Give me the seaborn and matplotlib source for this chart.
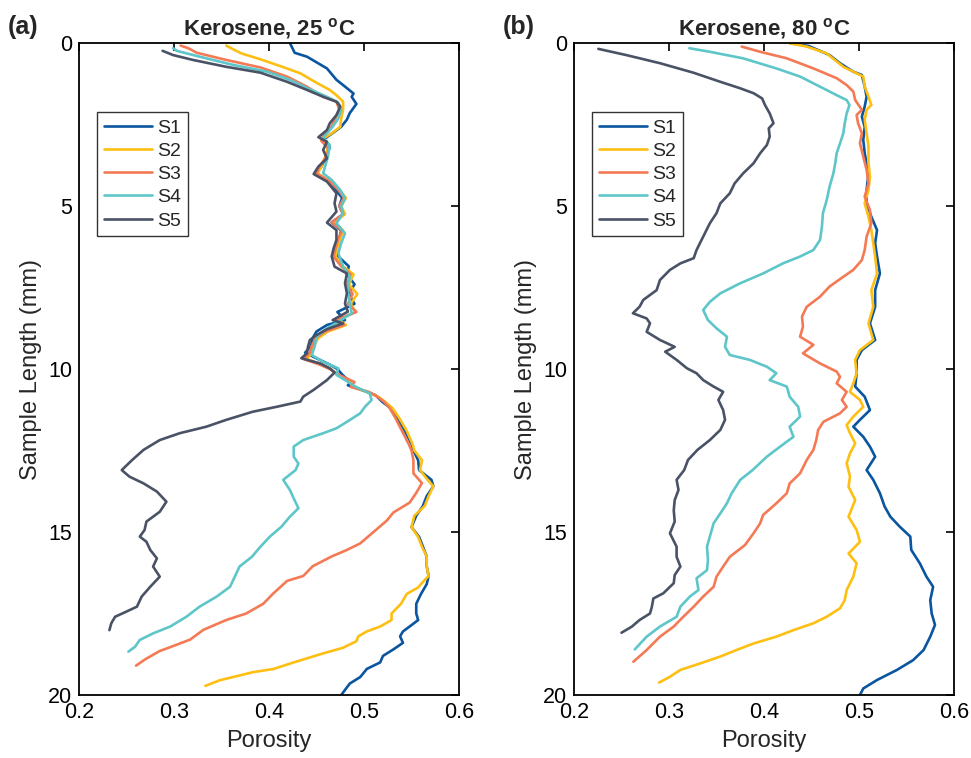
import matplotlib
matplotlib.use("Agg")
import matplotlib.pyplot as plt
import numpy as np
import pandas as pd
import seaborn as sns

# ---------------- porosity profiles, kerosene at 25 °C ----------------
a_s1_depth = [0.0, 0.3, 0.42, 0.78, 1.13, 1.29, 1.55, 1.65, 1.87, 2.15, 2.35, 2.57, 2.72, 2.95, 3.2, 3.5, 3.8, 4.0,
              4.25, 4.5, 4.75, 5.0, 5.25, 5.5, 5.75, 6.0, 6.3, 6.55, 6.85, 7.1, 7.4, 7.7, 8.0, 8.25, 8.5, 8.65, 8.85,
              9.05, 9.3, 9.5, 9.7, 9.85, 10.0, 10.2, 10.4, 10.5, 10.65, 10.8, 11.0, 11.2, 11.5, 11.9, 12.3, 12.5,
              12.8, 13.1, 13.4, 13.6, 13.9, 14.2, 14.5, 14.85, 15.15, 15.45, 15.75, 16.05, 16.35, 16.6, 16.9, 17.2,
              17.5, 17.7, 17.9, 18.05, 18.2, 18.4, 18.6, 18.8, 19.0, 19.2, 19.45, 19.65, 20.0]
a_s1_por = [0.422, 0.427, 0.440, 0.461, 0.471, 0.478, 0.489, 0.487, 0.492, 0.485, 0.482, 0.476, 0.469, 0.458, 0.464,
            0.460, 0.455, 0.450, 0.463, 0.470, 0.477, 0.474, 0.478, 0.466, 0.476, 0.474, 0.470, 0.473, 0.484, 0.482,
            0.490, 0.484, 0.490, 0.472, 0.480, 0.461, 0.450, 0.446, 0.444, 0.438, 0.452, 0.463, 0.472, 0.478, 0.486,
            0.483, 0.498, 0.512, 0.519, 0.528, 0.535, 0.543, 0.550, 0.552, 0.557, 0.558, 0.571, 0.573, 0.566, 0.562,
            0.555, 0.550, 0.558, 0.562, 0.566, 0.566, 0.568, 0.566, 0.560, 0.555, 0.555, 0.557, 0.548, 0.541, 0.538,
            0.541, 0.531, 0.520, 0.517, 0.503, 0.496, 0.485, 0.476]

a_s2_depth = [0.08, 0.19, 0.32, 0.5, 0.71, 0.93, 1.22, 1.44, 1.6, 1.8, 2.05, 2.31, 2.57, 2.77, 2.95, 3.2, 3.5, 3.8,
              4.0, 4.25, 4.5, 4.75, 5.0, 5.25, 5.5, 5.75, 6.0, 6.3, 6.55, 6.85, 7.1, 7.4, 7.7, 8.0, 8.25, 8.5, 8.65,
              8.85, 9.05, 9.3, 9.5, 9.7, 9.85, 10.0, 10.2, 10.4, 10.55, 10.7, 10.85, 11.0, 11.2, 11.5, 11.9, 12.3,
              12.5, 12.8, 13.1, 13.4, 13.6, 13.9, 14.2, 14.5, 14.85, 15.15, 15.45, 15.75, 16.05, 16.35, 16.5, 16.7,
              16.9, 17.2, 17.5, 17.7, 17.9, 18.05, 18.2, 18.35, 18.55, 18.75, 19.0, 19.2, 19.3, 19.55, 19.72]
a_s2_por = [0.355, 0.362, 0.371, 0.391, 0.412, 0.433, 0.450, 0.464, 0.471, 0.478, 0.478, 0.476, 0.475, 0.466, 0.456,
            0.462, 0.459, 0.455, 0.451, 0.465, 0.474, 0.481, 0.476, 0.480, 0.469, 0.478, 0.475, 0.472, 0.470, 0.478,
            0.489, 0.484, 0.493, 0.486, 0.491, 0.474, 0.481, 0.462, 0.452, 0.447, 0.445, 0.440, 0.454, 0.465, 0.474,
            0.486, 0.488, 0.503, 0.515, 0.522, 0.530, 0.537, 0.545, 0.551, 0.553, 0.561, 0.559, 0.567, 0.573, 0.568,
            0.564, 0.553, 0.550, 0.557, 0.561, 0.566, 0.566, 0.568, 0.563, 0.557, 0.545, 0.539, 0.529, 0.529, 0.517,
            0.503, 0.494, 0.492, 0.478, 0.454, 0.426, 0.405, 0.383, 0.348, 0.333]

a_s3_depth = [0.08, 0.16, 0.30, 0.52, 0.75, 1.03, 1.34, 1.65, 1.80, 2.05, 2.3, 2.55, 2.8, 3.0, 3.25, 3.5, 3.8, 4.0,
              4.25, 4.5, 4.75, 5.0, 5.25, 5.5, 5.75, 6.0, 6.3, 6.55, 6.85, 7.1, 7.4, 7.7, 8.0, 8.25, 8.5, 8.65, 8.85,
              9.05, 9.3, 9.5, 9.7, 9.85, 10.0, 10.2, 10.4, 10.55, 10.7, 10.85, 11.0, 11.2, 11.5, 11.9, 12.3, 12.5,
              12.8, 13.2, 13.5, 13.8, 14.1, 14.4, 14.65, 14.95, 15.35, 15.55, 15.75, 16.05, 16.35, 16.5, 16.9, 17.2,
              17.5, 17.7, 18.0, 18.3, 18.5, 18.65, 18.9, 19.1]
a_s3_por = [0.307, 0.315, 0.324, 0.355, 0.391, 0.419, 0.440, 0.457, 0.471, 0.474, 0.470, 0.466, 0.458, 0.455, 0.463,
            0.460, 0.453, 0.450, 0.464, 0.473, 0.479, 0.474, 0.478, 0.466, 0.477, 0.473, 0.470, 0.468, 0.476, 0.486,
            0.482, 0.488, 0.483, 0.492, 0.470, 0.479, 0.459, 0.449, 0.445, 0.443, 0.437, 0.452, 0.464, 0.475, 0.490,
            0.486, 0.505, 0.514, 0.521, 0.527, 0.533, 0.540, 0.547, 0.550, 0.552, 0.552, 0.561, 0.555, 0.548, 0.531,
            0.524, 0.512, 0.496, 0.482, 0.466, 0.446, 0.436, 0.419, 0.404, 0.394, 0.376, 0.355, 0.331, 0.317, 0.299,
            0.285, 0.270, 0.260]

a_s4_depth = [0.16, 0.24, 0.42, 0.67, 0.88, 1.13, 1.42, 1.65, 1.83, 2.05, 2.31, 2.57, 2.77, 2.92, 3.13, 3.49, 3.79,
              4.0, 4.2, 4.51, 4.76, 5.02, 5.22, 5.53, 5.84, 6.14, 6.45, 6.86, 7.17, 7.58, 7.99, 8.29, 8.55, 8.75,
              9.01, 9.32, 9.57, 9.78, 9.98, 10.18, 10.34, 10.54, 10.75, 10.95, 11.16, 11.36, 11.62, 11.82, 11.97,
              12.18, 12.38, 12.69, 12.9, 13.1, 13.4, 13.71, 13.97, 14.27, 14.53, 14.84, 15.14, 15.45, 15.76, 16.06,
              16.37, 16.68, 16.98, 17.29, 17.6, 17.9, 18.11, 18.31, 18.52, 18.67]
a_s4_por = [0.299, 0.303, 0.327, 0.362, 0.398, 0.422, 0.443, 0.461, 0.473, 0.476, 0.473, 0.467, 0.461, 0.457, 0.464,
            0.462, 0.459, 0.457, 0.466, 0.475, 0.480, 0.476, 0.478, 0.471, 0.480, 0.476, 0.473, 0.478, 0.485, 0.483,
            0.485, 0.487, 0.473, 0.461, 0.450, 0.448, 0.445, 0.457, 0.473, 0.471, 0.480, 0.491, 0.506, 0.508, 0.501,
            0.496, 0.482, 0.471, 0.457, 0.436, 0.426, 0.426, 0.431, 0.428, 0.415, 0.422, 0.426, 0.431, 0.422, 0.413,
            0.401, 0.391, 0.382, 0.369, 0.364, 0.359, 0.345, 0.327, 0.313, 0.296, 0.278, 0.264, 0.259, 0.252]

a_s5_depth = [0.24, 0.37, 0.52, 0.73, 0.91, 1.19, 1.44, 1.65, 1.80, 1.95, 2.21, 2.46, 2.67, 2.89, 3.03, 3.28, 3.54,
              3.79, 4.02, 4.25, 4.61, 4.92, 5.17, 5.51, 5.74, 6.04, 6.3, 6.55, 6.86, 7.07, 7.37, 7.68, 7.99, 8.24,
              8.5, 8.6, 8.78, 8.96, 9.11, 9.32, 9.52, 9.67, 9.83, 9.98, 10.11, 10.34, 10.64, 10.85, 11.0, 11.16,
              11.31, 11.56, 11.77, 11.97, 12.18, 12.48, 12.79, 13.1, 13.3, 13.51, 13.76, 14.07, 14.38, 14.68, 14.94,
              15.14, 15.3, 15.55, 15.81, 16.06, 16.37, 16.68, 16.98, 17.29, 17.44, 17.6, 17.8, 18.01]
a_s5_por = [0.288, 0.299, 0.320, 0.355, 0.391, 0.419, 0.440, 0.457, 0.471, 0.475, 0.471, 0.464, 0.461, 0.452, 0.461,
            0.457, 0.461, 0.452, 0.447, 0.461, 0.471, 0.469, 0.471, 0.461, 0.471, 0.471, 0.468, 0.466, 0.469, 0.482,
            0.480, 0.482, 0.480, 0.483, 0.467, 0.478, 0.461, 0.450, 0.443, 0.441, 0.440, 0.434, 0.454, 0.464, 0.469,
            0.461, 0.447, 0.436, 0.433, 0.408, 0.383, 0.355, 0.334, 0.306, 0.285, 0.268, 0.256, 0.245, 0.253, 0.268,
            0.282, 0.292, 0.285, 0.271, 0.269, 0.264, 0.271, 0.275, 0.282, 0.278, 0.285, 0.275, 0.266, 0.261, 0.250,
            0.238, 0.234, 0.232]

# ---------------- porosity profiles, kerosene at 80 °C ----------------
b_s1_depth = [0.0, 0.09, 0.37, 0.62, 0.88, 0.98, 1.34, 1.65, 1.95, 2.26, 2.57, 2.97, 3.38, 4.0, 4.51, 4.92, 5.33,
              5.74, 6.14, 6.55, 7.07, 7.58, 8.09, 8.6, 9.11, 9.42, 9.72, 10.13, 10.54, 10.85, 11.26, 11.56, 11.77,
              12.08, 12.38, 12.69, 13.1, 13.4, 13.81, 14.22, 14.53, 14.84, 15.14, 15.55, 15.96, 16.37, 16.68, 17.09,
              17.5, 17.85, 18.21, 18.62, 18.93, 19.23, 19.54, 19.8, 20.0]
b_s1_por = [0.427, 0.447, 0.469, 0.480, 0.494, 0.503, 0.506, 0.508, 0.506, 0.503, 0.506, 0.5045, 0.506, 0.510,
            0.508, 0.508, 0.513, 0.519, 0.517, 0.519, 0.522, 0.517, 0.517, 0.5115, 0.517, 0.503, 0.4975, 0.4975,
            0.496, 0.506, 0.5115, 0.501, 0.494, 0.5045, 0.5115, 0.517, 0.508, 0.515, 0.522, 0.527, 0.533, 0.543,
            0.554, 0.555, 0.564, 0.571, 0.578, 0.575, 0.5765, 0.580, 0.575, 0.568, 0.557, 0.540, 0.519, 0.5045, 0.501]

b_s2_depth = [0.01, 0.11, 0.32, 0.73, 0.88, 1.03, 1.34, 1.65, 1.90, 2.05, 2.36, 2.77, 3.18, 3.69, 4.1, 4.51, 4.92,
              5.33, 5.74, 6.14, 6.55, 7.07, 7.58, 8.09, 8.6, 9.11, 9.42, 9.72, 10.13, 10.44, 10.7, 10.95, 11.16,
              11.46, 11.72, 11.97, 12.28, 12.59, 12.89, 13.3, 13.61, 14.02, 14.53, 14.94, 15.3, 15.66, 15.96, 16.37,
              16.78, 17.09, 17.34, 17.6, 17.8, 18.01, 18.21, 18.42, 18.62, 18.82, 19.03, 19.23, 19.44, 19.62]
b_s2_por = [0.427, 0.445, 0.466, 0.4835, 0.494, 0.5045, 0.506, 0.510, 0.513, 0.508, 0.506, 0.508, 0.510, 0.510,
            0.5115, 0.510, 0.506, 0.510, 0.513, 0.515, 0.517, 0.519, 0.513, 0.515, 0.510, 0.515, 0.501, 0.496,
            0.4975, 0.494, 0.4905, 0.501, 0.5045, 0.494, 0.487, 0.4905, 0.496, 0.4905, 0.487, 0.4905, 0.489, 0.496,
            0.489, 0.4975, 0.501, 0.489, 0.4975, 0.494, 0.487, 0.485, 0.480, 0.466, 0.452, 0.431, 0.413, 0.389,
            0.371, 0.354, 0.333, 0.312, 0.301, 0.2895]

b_s3_depth = [0.11, 0.27, 0.47, 0.78, 1.08, 1.29, 1.49, 1.75, 2.05, 2.21, 2.46, 2.77, 3.08, 3.49, 3.89, 4.31, 4.71,
              5.12, 5.53, 5.94, 6.35, 6.66, 6.96, 7.17, 7.47, 7.78, 8.09, 8.39, 8.7, 9.01, 9.26, 9.52, 9.83, 10.08,
              10.24, 10.44, 10.7, 10.95, 11.16, 11.36, 11.62, 11.87, 12.18, 12.48, 12.79, 13.2, 13.51, 13.81, 14.12,
              14.48, 14.73, 15.04, 15.4, 15.76, 16.06, 16.37, 16.68, 16.98, 17.29, 17.6, 17.9, 18.21, 18.62, 18.98]
b_s3_por = [0.3765, 0.396, 0.424, 0.452, 0.4765, 0.487, 0.494, 0.496, 0.503, 0.4975, 0.499, 0.503, 0.501, 0.5045,
            0.508, 0.510, 0.506, 0.5115, 0.513, 0.508, 0.506, 0.503, 0.494, 0.4835, 0.469, 0.459, 0.445, 0.440,
            0.441, 0.438, 0.452, 0.441, 0.459, 0.4765, 0.480, 0.4765, 0.487, 0.482, 0.487, 0.480, 0.4625, 0.457,
            0.455, 0.452, 0.445, 0.438, 0.427, 0.424, 0.413, 0.399, 0.396, 0.389, 0.380, 0.364, 0.357, 0.350, 0.347,
            0.336, 0.326, 0.315, 0.305, 0.2905, 0.2765, 0.2625]

b_s4_depth = [0.16, 0.27, 0.47, 0.78, 1.03, 1.34, 1.6, 1.75, 1.90, 2.16, 2.46, 2.77, 3.08, 3.38, 3.69, 4.0, 4.41,
              4.82, 5.22, 5.63, 6.04, 6.35, 6.55, 6.76, 7.07, 7.37, 7.68, 7.94, 8.19, 8.5, 8.75, 9.01, 9.32, 9.57,
              9.72, 9.93, 10.13, 10.34, 10.54, 10.85, 11.16, 11.46, 11.77, 12.08, 12.38, 12.69, 13.1, 13.4, 13.81,
              14.12, 14.43, 14.73, 15.14, 15.45, 15.86, 16.17, 16.42, 16.78, 16.98, 17.29, 17.6, 17.9, 18.21, 18.6]
b_s4_por = [0.3214, 0.343, 0.378, 0.413, 0.438, 0.459, 0.4765, 0.487, 0.490, 0.487, 0.485, 0.4835, 0.480, 0.4765,
            0.475, 0.473, 0.469, 0.466, 0.462, 0.461, 0.459, 0.452, 0.438, 0.420, 0.399, 0.375, 0.354, 0.343, 0.336,
            0.341, 0.350, 0.361, 0.359, 0.364, 0.385, 0.403, 0.413, 0.406, 0.424, 0.427, 0.436, 0.438, 0.427, 0.431,
            0.417, 0.403, 0.388, 0.375, 0.366, 0.361, 0.354, 0.347, 0.343, 0.340, 0.341, 0.340, 0.329, 0.331, 0.322,
            0.312, 0.308, 0.2905, 0.2765, 0.264]

b_s5_depth = [0.18, 0.37, 0.62, 0.91, 1.19, 1.39, 1.54, 1.70, 1.90, 2.16, 2.46, 2.62, 2.87, 3.13, 3.38, 3.69, 4.0,
              4.31, 4.61, 4.92, 5.22, 5.53, 5.94, 6.35, 6.6, 6.76, 6.96, 7.27, 7.58, 7.88, 8.09, 8.29, 8.45, 8.6,
              8.86, 9.11, 9.32, 9.47, 9.72, 9.98, 10.13, 10.34, 10.54, 10.7, 10.95, 11.26, 11.56, 11.87, 12.18,
              12.48, 12.79, 13.1, 13.4, 13.71, 14.02, 14.33, 14.68, 15.04, 15.45, 15.76, 16.06, 16.32, 16.57, 16.88,
              17.04, 17.29, 17.5, 17.7, 17.9, 18.09]
b_s5_por = [0.2256, 0.255, 0.2905, 0.3256, 0.354, 0.375, 0.389, 0.398, 0.401, 0.406, 0.410, 0.405, 0.406, 0.403,
            0.396, 0.389, 0.378, 0.369, 0.364, 0.354, 0.350, 0.343, 0.336, 0.329, 0.326, 0.312, 0.301, 0.2905,
            0.287, 0.273, 0.269, 0.262, 0.2765, 0.280, 0.2765, 0.2905, 0.306, 0.296, 0.308, 0.319, 0.329, 0.336,
            0.347, 0.357, 0.352, 0.357, 0.359, 0.354, 0.343, 0.330, 0.320, 0.316, 0.308, 0.310, 0.306, 0.305, 0.306,
            0.301, 0.308, 0.308, 0.312, 0.306, 0.305, 0.294, 0.2835, 0.282, 0.280, 0.269, 0.261, 0.250]

samples = ["S1", "S2", "S3", "S4", "S5"]
colors = ["#0a55a0", "#fdbf12", "#f47a55", "#5ec6c9", "#4a5266"]
panel_titles = [r"Kerosene, 25 $^{\mathbf{o}}$C", r"Kerosene, 80 $^{\mathbf{o}}$C"]
panel_tags = ["(a)", "(b)"]
x_ticks = [0.2, 0.3, 0.4, 0.5, 0.6]
y_ticks = [0, 5, 10, 15, 20]

panel_a = [(a_s1_depth, a_s1_por), (a_s2_depth, a_s2_por), (a_s3_depth, a_s3_por),
           (a_s4_depth, a_s4_por), (a_s5_depth, a_s5_por)]
panel_b = [(b_s1_depth, b_s1_por), (b_s2_depth, b_s2_por), (b_s3_depth, b_s3_por),
           (b_s4_depth, b_s4_por), (b_s5_depth, b_s5_por)]


def to_frame(series):
    parts = []
    for name, (depth, por) in zip(samples, series):
        parts.append(pd.DataFrame({"Depth": depth, "Porosity": por, "Sample": name}))
    return pd.concat(parts, ignore_index=True)


sns.set_theme(style="white")
plt.rcParams["font.family"] = ["Liberation Sans", "DejaVu Sans"]
plt.rcParams["mathtext.fontset"] = "custom"
plt.rcParams["mathtext.rm"] = "Liberation Sans"
plt.rcParams["mathtext.bf"] = "Liberation Sans:bold"

W, H = 971, 758
fig = plt.figure(figsize=(W / 100, H / 100), dpi=100)
ax_a = fig.add_axes([79 / W, 63 / H, 380 / W, 652 / H])
ax_b = fig.add_axes([574 / W, 63 / H, 380 / W, 652 / H])

for ax, series, title, tag in zip([ax_a, ax_b], [panel_a, panel_b], panel_titles, panel_tags):
    df = to_frame(series)
    sns.lineplot(data=df, x="Porosity", y="Depth", hue="Sample", palette=colors,
                 estimator=None, sort=False, orient="y", linewidth=1.9, ax=ax)
    ax.set_xlim(0.2, 0.6)
    ax.set_ylim(20, 0)
    ax.set_xticks(x_ticks)
    ax.set_xticklabels([f"{t:.1f}" for t in x_ticks])
    ax.set_yticks(y_ticks)
    ax.set_yticklabels([str(t) for t in y_ticks])
    ax.tick_params(direction="in", length=6, width=1.2, top=True, right=True,
                   labelsize=15.5, pad=5, colors="black")
    for sp in ax.spines.values():
        sp.set_visible(True)
        sp.set_color("black")
        sp.set_linewidth(1.3)
    ax.set_xlabel("Porosity", fontsize=17, labelpad=5)
    ax.set_ylabel("Sample Length (mm)", fontsize=17, labelpad=4)
    ax.set_title(title, fontsize=16, fontweight="bold", pad=6)
    leg = ax.legend(loc="upper left", bbox_to_anchor=(0.047, 0.894), borderaxespad=0,
                    fontsize=14, frameon=True, fancybox=False, handlelength=2.5,
                    handletextpad=0.25, labelspacing=0.29, borderpad=0.35)
    leg.get_frame().set_edgecolor("black")
    leg.get_frame().set_linewidth(1.0)
    for line in leg.get_lines():
        line.set_linewidth(1.9)
    bbox = ax.get_position()
    fig.text(bbox.x0 - 71 / W, 1 - 27 / H, tag, fontsize=18, fontweight="bold",
             ha="left", va="center")

fig.savefig("out.png", dpi=100, facecolor="white")
